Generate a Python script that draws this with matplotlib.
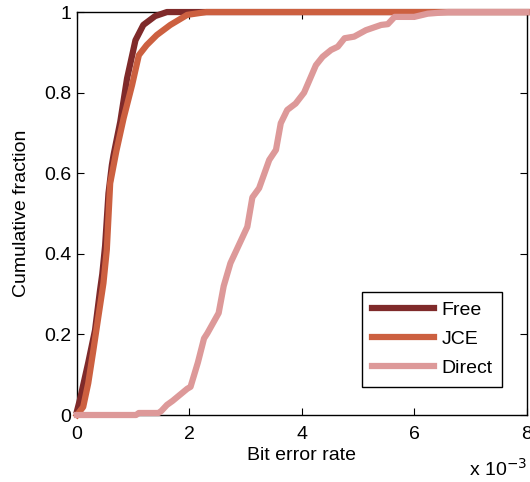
import matplotlib
matplotlib.use('Agg')
import matplotlib.pyplot as plt

plt.rcParams['font.family'] = ['Liberation Sans', 'DejaVu Sans']

# bit error rate in units of 1e-3
free_x = [0, 0.05, 0.2, 0.32, 0.41, 0.45, 0.5, 0.56, 0.62, 0.65, 0.77, 0.89, 1.04, 1.18, 1.39, 1.6, 8]
free_y = [0.01, 0.037, 0.13, 0.21, 0.31, 0.35, 0.42, 0.55, 0.62, 0.645, 0.728, 0.835, 0.93, 0.968, 0.99, 1.0, 1.0]

jce_x = [0, 0.11, 0.2, 0.29, 0.38, 0.47, 0.53, 0.59, 0.70, 0.83, 0.98, 1.1, 1.24, 1.42, 1.66, 1.96, 2.3, 8]
jce_y = [0.0, 0.02, 0.079, 0.16, 0.244, 0.327, 0.41, 0.575, 0.655, 0.737, 0.819, 0.893, 0.918, 0.943, 0.968, 0.993, 1.0, 1.0]

direct_x = [0, 1.05, 1.1, 1.45, 1.5, 1.6, 1.7, 1.96, 2.02, 2.15, 2.26, 2.32, 2.52, 2.61, 2.73, 3.03,
            3.12, 3.24, 3.42, 3.54, 3.625, 3.74, 3.89, 4.04, 4.25, 4.37, 4.52, 4.64, 4.76, 4.93,
            5.14, 5.41, 5.53, 5.65, 6.0, 6.24, 6.6, 8]
direct_y = [0, 0, 0.005, 0.005, 0.01, 0.025, 0.035, 0.065, 0.07, 0.13, 0.19, 0.203, 0.253, 0.32, 0.377, 0.467,
            0.54, 0.563, 0.633, 0.658, 0.724, 0.757, 0.773, 0.80, 0.868, 0.889, 0.906, 0.914, 0.935, 0.939,
            0.955, 0.968, 0.97, 0.988, 0.988, 0.996, 1.0, 1.0]

xticks = [0, 2, 4, 6, 8]
yticks = [0, 0.2, 0.4, 0.6, 0.8, 1]
ytick_labels = ['0', '0.2', '0.4', '0.6', '0.8', '1']

fig = plt.figure(figsize=(5.3, 4.82), dpi=100)
ax = fig.add_axes([0.1453, 0.139, 0.8484, 0.836])

ax.plot(free_x, free_y, color='#7f2a2a', lw=4.5, label='Free', clip_on=False, zorder=3)
ax.plot(jce_x, jce_y, color='#cc6040', lw=4.5, label='JCE', clip_on=False, zorder=4)
ax.plot(direct_x, direct_y, color='#dd9999', lw=4.5, label='Direct', clip_on=False, zorder=5)

ax.set_xlim(0, 8)
ax.set_ylim(0, 1)
ax.set_xticks(xticks)
ax.set_xticklabels([str(t) for t in xticks])
ax.set_yticks(yticks)
ax.set_yticklabels(ytick_labels)
ax.tick_params(direction='in', length=5, width=0.8, top=True, right=True, labelsize=14)
ax.tick_params(axis='x', pad=8)
ax.tick_params(axis='y', pad=4)
for s in ax.spines.values():
    s.set_linewidth(1.0)

ax.set_xlabel('Bit error rate', fontsize=14, labelpad=3)
ax.set_ylabel('Cumulative fraction', fontsize=14, labelpad=10)

fig.text(0.994, 0.0124, r'x 10$^{-3}$', ha='right', va='baseline', fontsize=14)

leg = ax.legend(loc='upper right', bbox_to_anchor=(0.946, 0.306), fontsize=14, fancybox=False,
                edgecolor='black', framealpha=1, handlelength=3.2, borderpad=0.5,
                labelspacing=0.58, handletextpad=0.4, borderaxespad=0)
leg.get_frame().set_linewidth(1.0)
leg.set_zorder(10)

fig.savefig('out.png', dpi=100)
